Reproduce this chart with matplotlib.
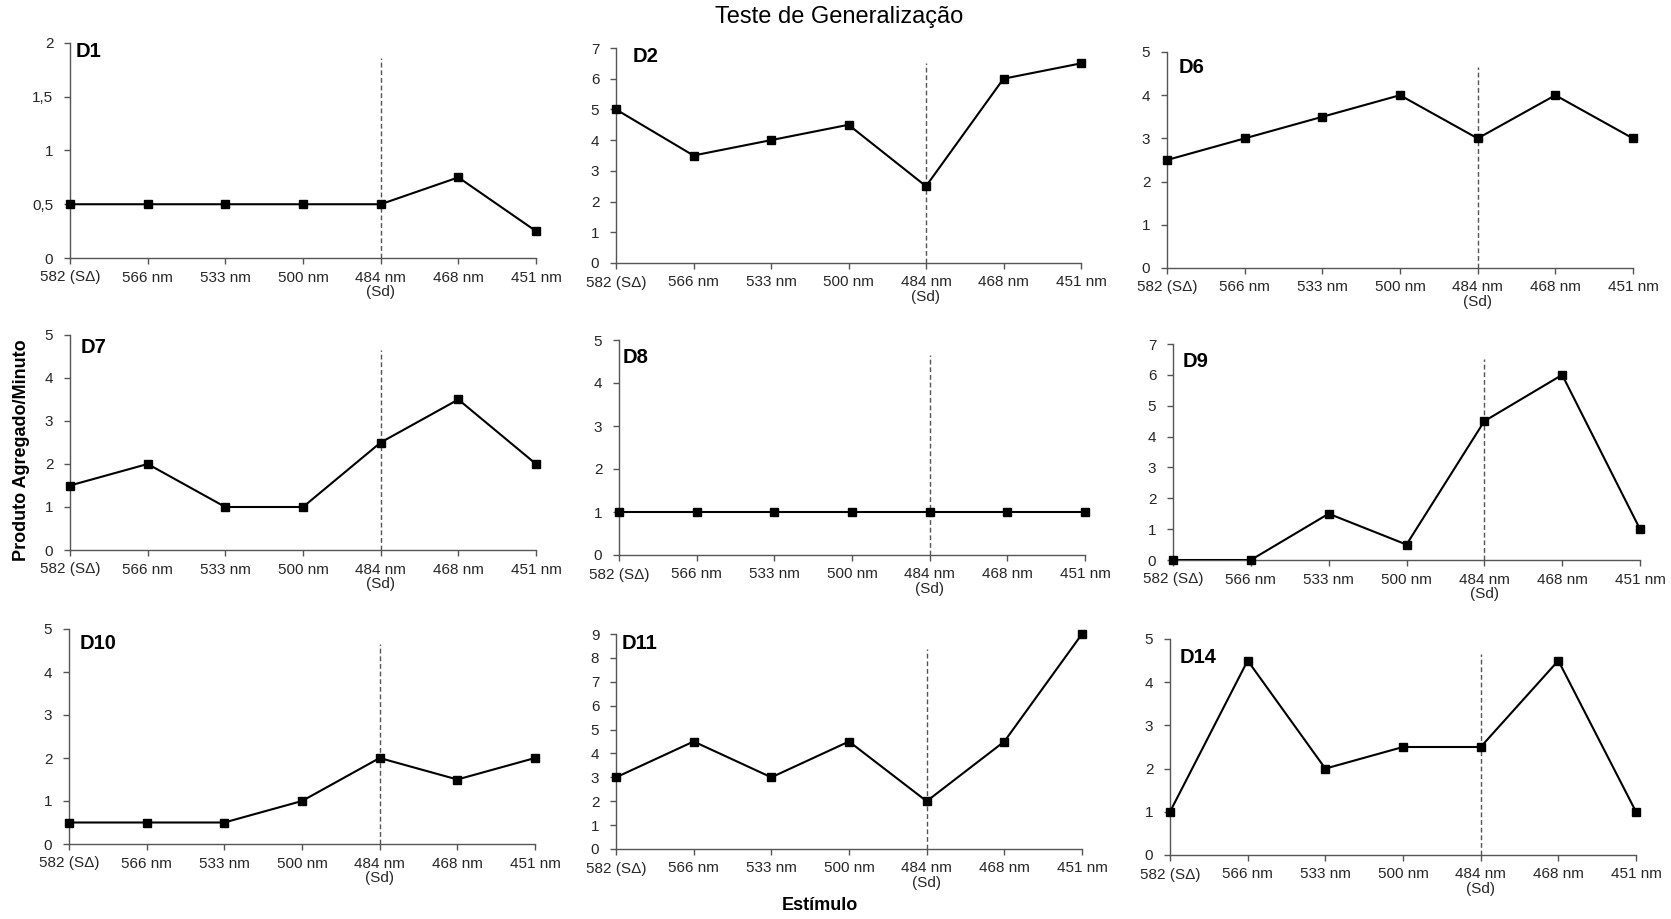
import matplotlib
matplotlib.use("Agg")
import matplotlib.pyplot as plt
from matplotlib.ticker import FuncFormatter

# Stimulus order (wavelengths) shown on every panel
STIMULI = ["582 (S\u0394)", "566 nm", "533 nm", "500 nm", "484 nm\n(Sd)", "468 nm", "451 nm"]
SD_INDEX = 4

PANELS = ["D1", "D2", "D6", "D7", "D8", "D9", "D10", "D11", "D14"]

d1 = [0.5, 0.5, 0.5, 0.5, 0.5, 0.75, 0.25]
d2 = [5, 3.5, 4, 4.5, 2.5, 6, 6.5]
d6 = [2.5, 3, 3.5, 4, 3, 4, 3]
d7 = [1.5, 2, 1, 1, 2.5, 3.5, 2]
d8 = [1, 1, 1, 1, 1, 1, 1]
d9 = [0, 0, 1.5, 0.5, 4.5, 6, 1]
d10 = [0.5, 0.5, 0.5, 1, 2, 1.5, 2]
d11 = [3, 4.5, 3, 4.5, 2, 4.5, 9]
d14 = [1, 4.5, 2, 2.5, 2.5, 4.5, 1]
SERIES = [d1, d2, d6, d7, d8, d9, d10, d11, d14]

Y_MAX = [2, 7, 5, 5, 5, 7, 5, 9, 5]
Y_STEP = [0.5, 1, 1, 1, 1, 1, 1, 1, 1]

# axes boxes in pixels: left, right, bottom, top  (figure is 1671 x 919)
W, H = 1671, 919
BOXES = [
    (70, 536, 258, 43), (616, 1081, 263, 48), (1167, 1633, 268, 52),
    (70, 536, 550, 335), (619, 1085, 555, 340), (1173, 1640, 560, 344),
    (69, 535, 844, 629), (616, 1082, 849, 634), (1170, 1636, 855, 639),
]
# panel name offsets from the top-left corner of each axes, pixels
NAME_OFFSET = [(6, -1), (17, -1), (12, 6), (11, 3), (4, 8), (10, 8), (11, 5), (6, 0), (10, 9)]

FONT = ["Liberation Sans", "DejaVu Sans"]
TEXT_COLOR = "#262626"
AXIS_COLOR = "#555555"

plt.rcParams["font.family"] = FONT

fig = plt.figure(figsize=(W / 100, H / 100), dpi=100)


def comma_fmt(v, _):
    return f"{v:g}".replace(".", ",")


for i, name in enumerate(PANELS):
    l, r, b, t = BOXES[i]
    ax = fig.add_axes([l / W, 1 - b / H, (r - l) / W, (b - t) / H])
    x = list(range(len(STIMULI)))
    y = SERIES[i]

    ax.plot(x, y, color="black", lw=1.5, zorder=3)
    ax.plot(x, y, "s", color="black", ms=6, clip_on=False, zorder=4)
    ax.axvline(SD_INDEX, ymin=0, ymax=0.93, color="#555555", lw=1.0,
               ls=(0, (3.5, 2)), zorder=2)

    ax.set_xlim(0, len(STIMULI) - 1)
    ax.set_ylim(0, Y_MAX[i])
    n = int(round(Y_MAX[i] / Y_STEP[i]))
    ax.set_yticks([k * Y_STEP[i] for k in range(n + 1)])
    ax.yaxis.set_major_formatter(FuncFormatter(comma_fmt))
    ax.set_xticks(x)
    ax.set_xticklabels(STIMULI, linespacing=1.05)

    for side in ["top", "right"]:
        ax.spines[side].set_visible(False)
    for side in ["left", "bottom"]:
        ax.spines[side].set_color(AXIS_COLOR)
        ax.spines[side].set_linewidth(1.0)
    ax.tick_params(axis="both", direction="out", length=4, width=1.0,
                   color=AXIS_COLOR, labelcolor=TEXT_COLOR, labelsize=11)
    ax.tick_params(axis="x", pad=5)
    ax.tick_params(axis="y", pad=8)

    dx, dy = NAME_OFFSET[i]
    fig.text((l + dx) / W, 1 - (t + dy) / H, name, ha="left", va="top",
             fontsize=14.5, fontweight="bold", color="black")

fig.text(839 / W, 1 - 17 / H, "Teste de Generaliza\u00e7\u00e3o", ha="center",
         va="center", fontsize=17, color="black")
fig.text(22 / W, 1 - 450 / H, "Produto Agregado/Minuto", ha="center",
         va="center", rotation=90, fontsize=13, fontweight="bold", color="black")
fig.text(820 / W, 1 - 906 / H, "Est\u00edmulo", ha="center", va="center",
         fontsize=13, fontweight="bold", color="black")

fig.savefig("out.png", dpi=100, facecolor="white")
